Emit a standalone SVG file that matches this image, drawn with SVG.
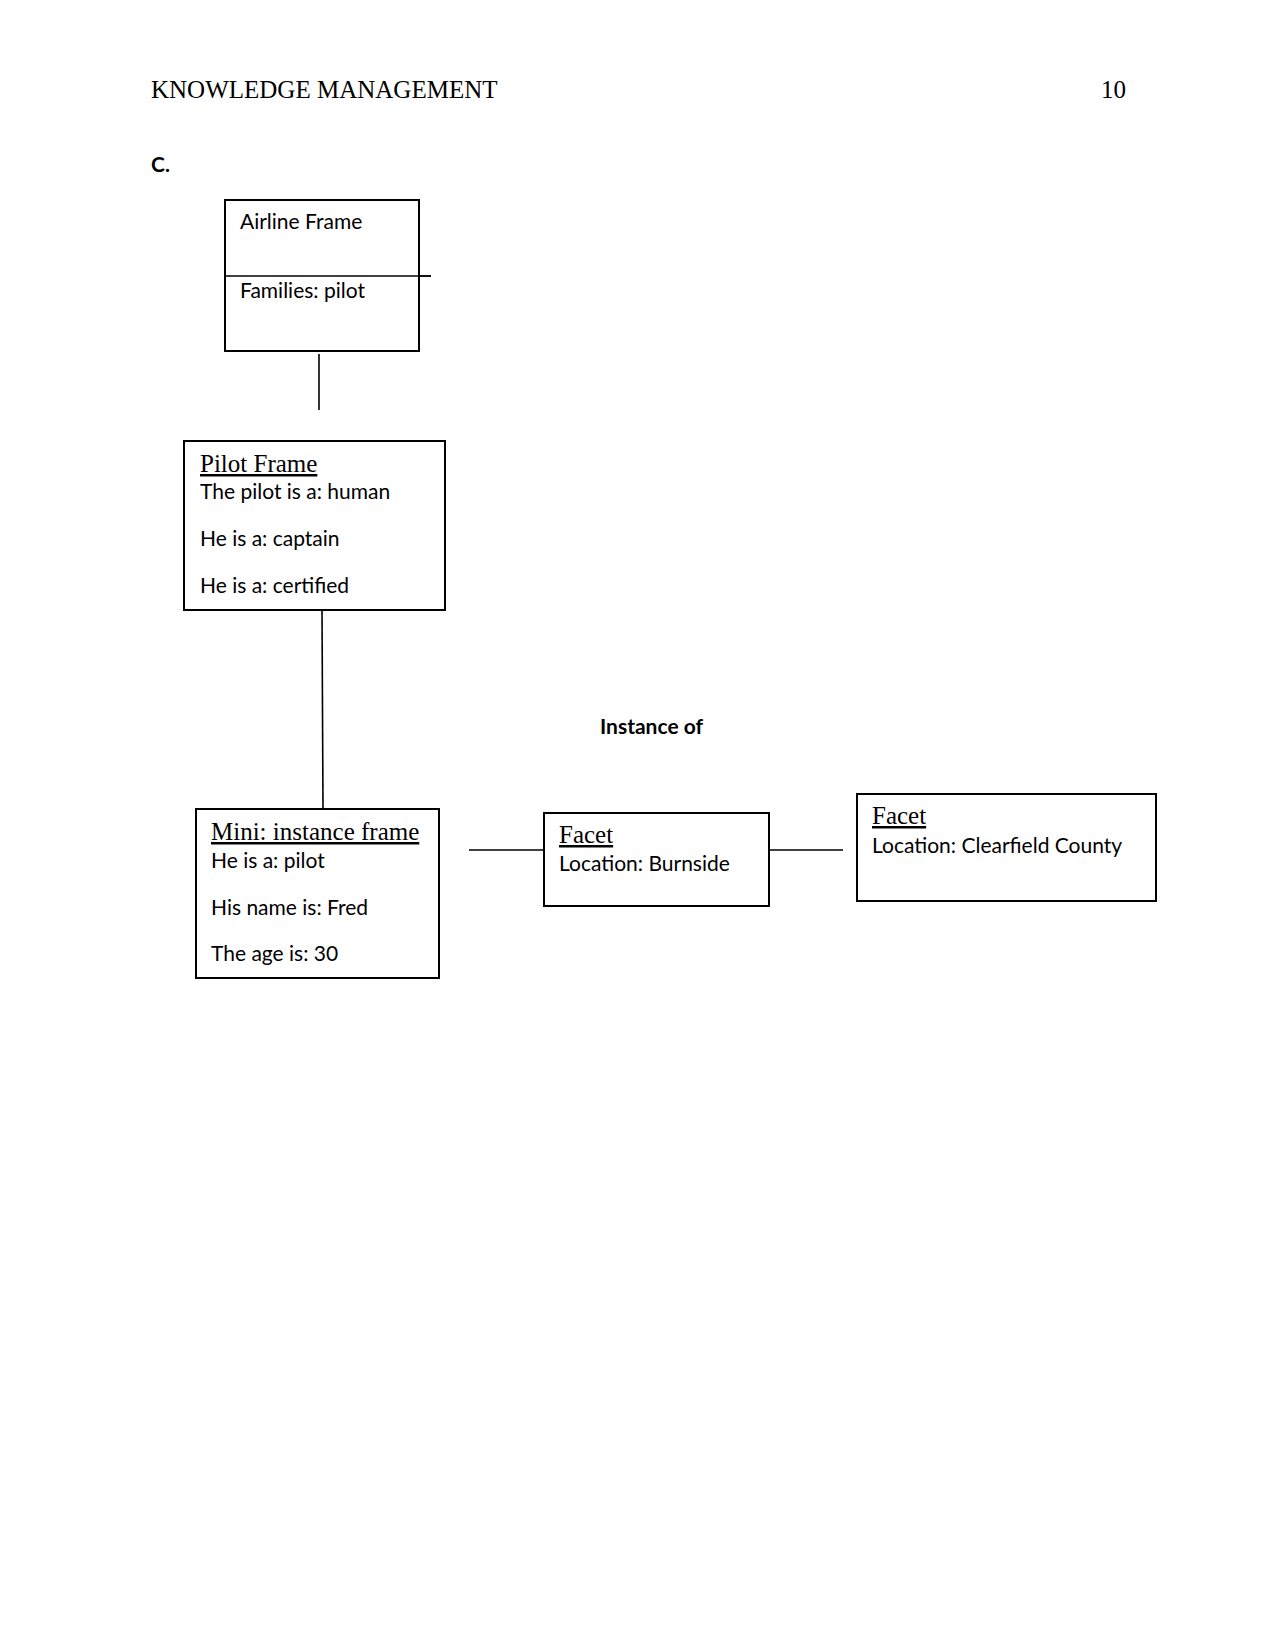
<svg xmlns="http://www.w3.org/2000/svg" width="1275" height="1651" viewBox="0 0 1275 1651">
<style>
.box{fill:#fff;stroke:#000;stroke-width:2}
.ln{stroke:#000;stroke-width:1.6;fill:none}
.hd{font-family:"Liberation Serif",serif;font-size:25px;fill:#000}
.ti{font-family:"Liberation Serif",serif;font-size:25px;fill:#000;text-decoration:underline}
.tx{font-family:Lato,"Liberation Sans",sans-serif;font-size:21px;fill:#000}
.bd{font-family:Lato,"Liberation Sans",sans-serif;font-size:21px;font-weight:bold;fill:#000}
</style>
<rect width="1275" height="1651" fill="#fff"/>
<text class="hd" x="151" y="98">KNOWLEDGE MANAGEMENT</text>
<text class="hd" x="1101" y="98">10</text>
<text class="bd" x="151" y="172">C.</text>
<g id="connectors">
<line class="ln" x1="225" y1="276" x2="431" y2="276"/>
<line class="ln" x1="319" y1="354" x2="319" y2="410"/>
<line class="ln" x1="322" y1="610" x2="323" y2="809"/>
<line class="ln" x1="469" y1="850" x2="544" y2="850"/>
<line class="ln" x1="769" y1="850" x2="843" y2="850"/>
</g>
<g id="airline">
<rect class="box" x="225" y="200" width="194" height="151"/>
<line class="ln" x1="225" y1="276" x2="431" y2="276"/>
<text class="tx" x="240" y="229">Airline Frame</text>
<text class="tx" x="240" y="298">Families: pilot</text>
</g>
<g id="pilot">
<rect class="box" x="184" y="441" width="261" height="169"/>
<text class="ti" x="200" y="472">Pilot Frame</text>
<text class="tx" x="200" y="499">The pilot is a: human</text>
<text class="tx" x="200" y="546">He is a: captain</text>
<text class="tx" x="200" y="593">He is a: certified</text>
</g>
<g id="label">
<text class="bd" x="600" y="734">Instance of</text>
</g>
<g id="mini">
<rect class="box" x="196" y="809" width="243" height="169"/>
<text class="ti" x="211" y="840">Mini: instance frame</text>
<text class="tx" x="211" y="868">He is a: pilot</text>
<text class="tx" x="211" y="915">His name is: Fred</text>
<text class="tx" x="211" y="961">The age is: 30</text>
</g>
<g id="facet1">
<rect class="box" x="544" y="813" width="225" height="93"/>
<text class="ti" x="559" y="843">Facet</text>
<text class="tx" x="559" y="871">Location: Burnside</text>
</g>
<g id="facet2">
<rect class="box" x="857" y="794" width="299" height="107"/>
<text class="ti" x="872" y="824">Facet</text>
<text class="tx" x="872" y="853">Location: Clearfield County</text>
</g>
</svg>
